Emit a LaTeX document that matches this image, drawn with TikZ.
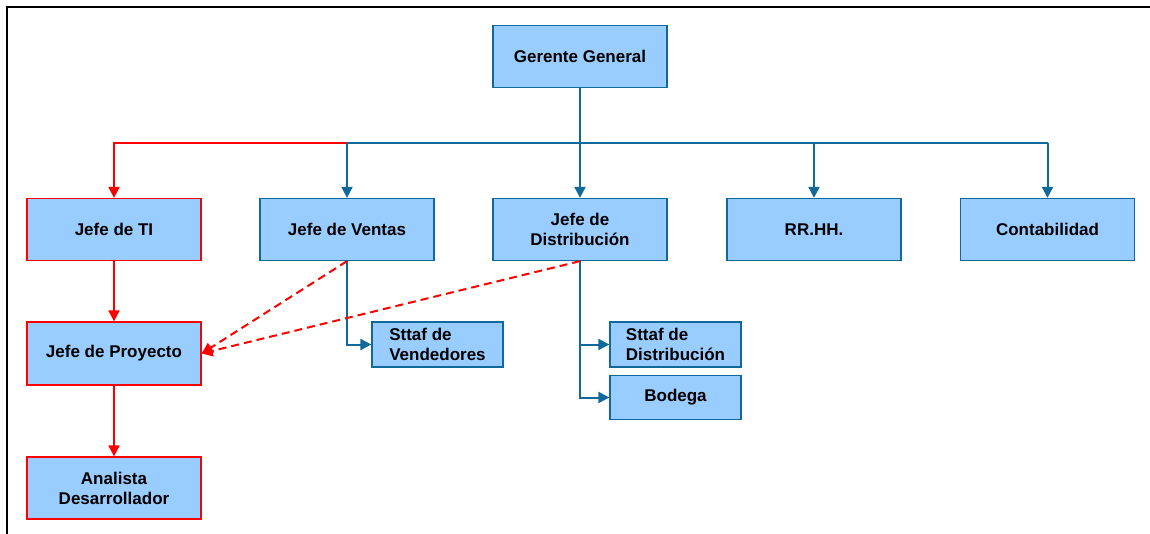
\documentclass[tikz,border=0pt]{standalone}
\usepackage{fontspec}
\setmainfont{Liberation Sans}
\usetikzlibrary{arrows.meta}
\definecolor{boxfill}{HTML}{99CCFF}
\definecolor{orgblue}{HTML}{10699A}
\definecolor{orgred}{HTML}{FF0000}

\begin{document}
\begin{tikzpicture}[x=1pt,y=-1pt,
  unit/.style={draw=orgblue, fill=boxfill, line width=1.3pt,
    minimum width=174pt, minimum height=62pt, inner sep=0pt,
    font=\fontsize{17}{20}\selectfont\bfseries, align=center},
  redunit/.style={unit, draw=orgred},
  staffbox/.style={unit, minimum width=131pt, minimum height=45pt, align=left},
  tip/.style={-{Triangle[length=11pt,width=11pt]}},
  bluelink/.style={draw=orgblue, line width=2pt},
  redlink/.style={draw=orgred, line width=2pt},
  reddash/.style={redlink, dash pattern=on 8pt off 5pt},
]
\useasboundingbox (0,0) rectangle (1150,534);

% frame
\draw[line width=2.5pt] (7,534) -- (7,7) -- (1150,7);

% boxes
\node[unit] (gg) at (580,56.5) {Gerente General};
\node[redunit] (ti) at (114,229.5) {Jefe de TI};
\node[unit] (ventas) at (347,229.5) {Jefe de Ventas};
\node[unit] (dist) at (580,229.5) {Jefe de\\Distribución};
\node[unit] (rrhh) at (814,229.5) {RR.HH.};
\node[unit] (cont) at (1047.5,229.5) {Contabilidad};
\node[redunit, minimum height=63pt] (proy) at (114,353.5) {Jefe de Proyecto};
\node[redunit] (an) at (114,488) {Analista\\Desarrollador};
\node[staffbox] (sv) at (437.5,344.5) {Sttaf de\\Vendedores};
\node[staffbox] (sd) at (675.5,344.5) {Sttaf de\\Distribución};
\node[unit, minimum width=131pt, minimum height=44pt] (bod) at (675.5,397.5) {Bodega};

% bus under the general manager
\coordinate (bus) at (580,143);

\draw[redlink, tip] (ventas.north |- bus) -| (ti.north);
\draw[bluelink] (ventas.north |- bus) -- (cont.north |- bus);
\draw[bluelink, tip] (ventas.north |- bus) -- (ventas.north);
\draw[bluelink, tip] (gg.south) -- (dist.north);
\draw[bluelink, tip] (rrhh.north |- bus) -- (rrhh.north);
\draw[bluelink, tip] (cont.north |- bus) -- (cont.north);

% staff branches
\draw[bluelink, tip] (ventas.south) |- (sv.west);
\draw[bluelink, tip] (dist.south) |- (sd.west);
\draw[bluelink, tip] (dist.south) |- (bod.west);

% IT line
\draw[redlink, tip] (ti.south) -- (proy.north);
\draw[redlink, tip] (proy.south) -- (an.north);

% dashed coordination lines
\draw[reddash, tip] (ventas.south) -- (proy.east);
\draw[reddash, tip] (dist.south) -- (proy.east);
\end{tikzpicture}
\end{document}
